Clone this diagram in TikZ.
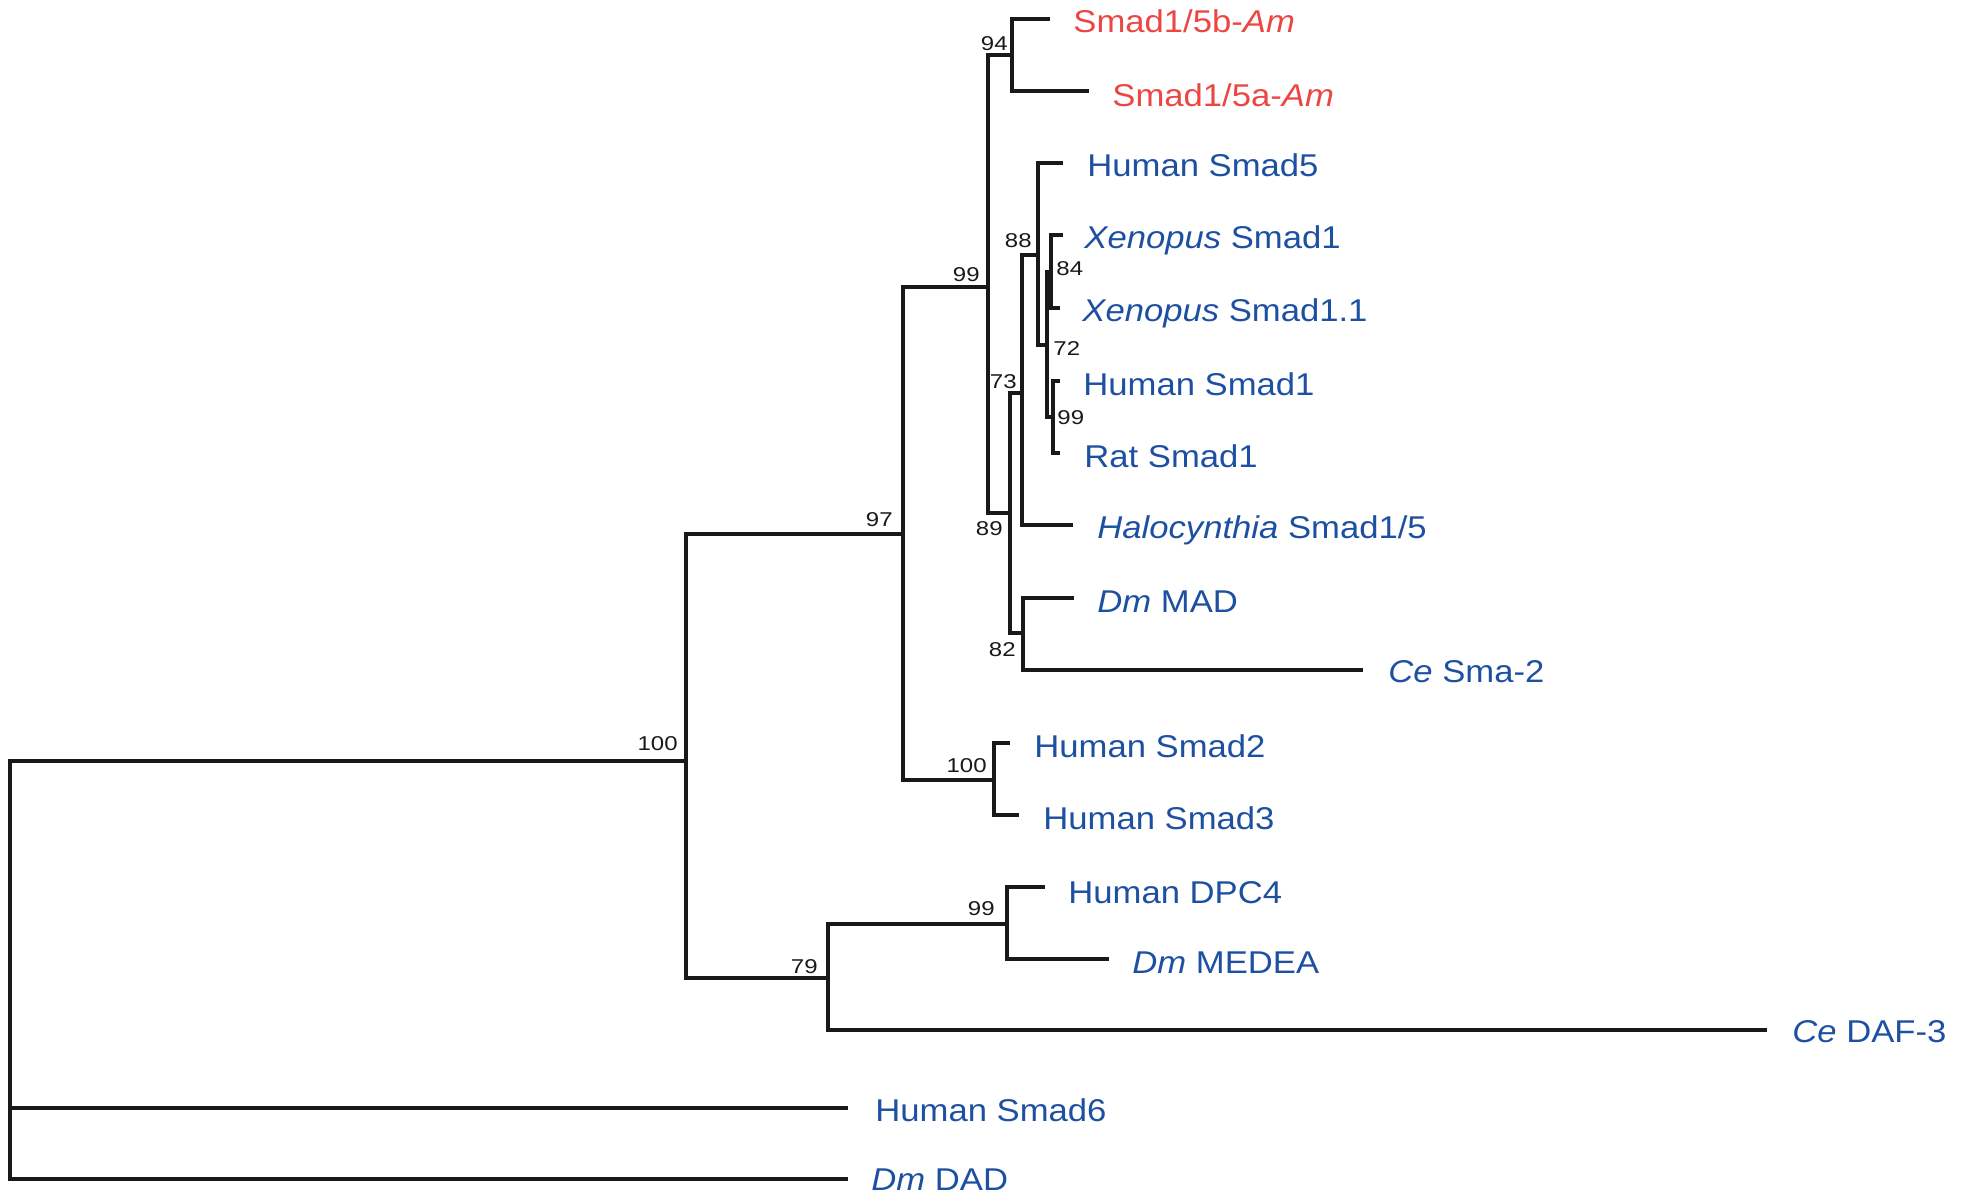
\documentclass[tikz,border=0pt]{standalone}
\usepackage{fontspec}
\setmainfont{Liberation Sans}
\usepackage{graphicx}
\definecolor{tblue}{RGB}{30,80,162}
\definecolor{tred}{RGB}{236,70,66}
\definecolor{tline}{RGB}{25,25,25}
\newcommand\stretchtxt[1]{\scalebox{1.1}[1]{#1}}
\newcommand\stretchnum[1]{\scalebox{1.2}[1]{#1}}
\tikzset{
  branch/.style={line width=1.6pt, draw=tline, line join=miter, line cap=rect},
  taxon/.style={anchor=base west, inner sep=0pt, text=tblue, font=\fontsize{15.75}{18}\selectfont},
  amtaxon/.style={taxon, text=tred},
  bootl/.style={anchor=base east, inner sep=0pt, text=tline, font=\fontsize{10}{12}\selectfont},
  bootr/.style={anchor=base west, inner sep=0pt, text=tline, font=\fontsize{10}{12}\selectfont},
}
\begin{document}
\begin{tikzpicture}[x=0.5pt, y=-0.5pt]
\useasboundingbox (0,0) rectangle (1966,1197);
% internal nodes
\coordinate (root) at (10,761);
\coordinate (n100a) at (686,761);
\coordinate (n97) at (903,534);
\coordinate (n99a) at (988,287);
\coordinate (n94) at (1012,55);
\coordinate (n89) at (1010,513);
\coordinate (n73) at (1022,393);
\coordinate (n88) at (1038,255);
\coordinate (n72) at (1047,345);
\coordinate (n84) at (1051,272);
\coordinate (n99b) at (1053,417);
\coordinate (n82) at (1023,633);
\coordinate (n100b) at (994,780);
\coordinate (n79) at (828,978);
\coordinate (n99c) at (1007,924);
% tips
\coordinate (t5b) at (1048,19);
\coordinate (t5a) at (1087,91);
\coordinate (tHs5) at (1061,163);
\coordinate (tX1) at (1061,235);
\coordinate (tX11) at (1058,308);
\coordinate (tHs1) at (1058,381);
\coordinate (tRat) at (1058,453);
\coordinate (tHalo) at (1071,525);
\coordinate (tMAD) at (1072,598);
\coordinate (tSma2) at (1361,670);
\coordinate (tHs2) at (1008,743);
\coordinate (tHs3) at (1017,815);
\coordinate (tDPC4) at (1043,887);
\coordinate (tMEDEA) at (1107,959);
\coordinate (tDAF) at (1765,1030);
\coordinate (tHs6) at (846,1108);
\coordinate (tDAD) at (846,1179);
% branches
\draw[branch] (root) |- (n100a);
\draw[branch] (root) |- (tHs6);
\draw[branch] (root) |- (tDAD);
\draw[branch] (n100a) |- (n97);
\draw[branch] (n100a) |- (n79);
\draw[branch] (n97) |- (n99a);
\draw[branch] (n97) |- (n100b);
\draw[branch] (n99a) |- (n94);
\draw[branch] (n99a) |- (n89);
\draw[branch] (n94) |- (t5b);
\draw[branch] (n94) |- (t5a);
\draw[branch] (n89) |- (n73);
\draw[branch] (n89) |- (n82);
\draw[branch] (n73) |- (n88);
\draw[branch] (n73) |- (tHalo);
\draw[branch] (n88) |- (tHs5);
\draw[branch] (n88) |- (n72);
\draw[branch] (n72) |- (n84);
\draw[branch] (n72) |- (n99b);
\draw[branch] (n84) |- (tX1);
\draw[branch] (n84) |- (tX11);
\draw[branch] (n99b) |- (tHs1);
\draw[branch] (n99b) |- (tRat);
\draw[branch] (n82) |- (tMAD);
\draw[branch] (n82) |- (tSma2);
\draw[branch] (n100b) |- (tHs2);
\draw[branch] (n100b) |- (tHs3);
\draw[branch] (n79) |- (n99c);
\draw[branch] (n79) |- (tDAF);
\draw[branch] (n99c) |- (tDPC4);
\draw[branch] (n99c) |- (tMEDEA);
% taxon labels
\node[amtaxon] (L5b) at (1073,33) {\stretchtxt{Smad1/5b-\textit{Am}}};
\node[amtaxon] (L5a) at (1112,107) {\stretchtxt{Smad1/5a-\textit{Am}}};
\node[taxon] (LHs5) at (1087,177) {\stretchtxt{Human Smad5}};
\node[taxon] (LX1) at (1084,249) {\stretchtxt{\textit{Xenopus} Smad1}};
\node[taxon] (LX11) at (1082,322) {\stretchtxt{\textit{Xenopus} Smad1.1}};
\node[taxon] (LHs1) at (1083,396) {\stretchtxt{Human Smad1}};
\node[taxon] (LRat) at (1084,468) {\stretchtxt{Rat Smad1}};
\node[taxon] (LHalo) at (1097,539) {\stretchtxt{\textit{Halocynthia} Smad1/5}};
\node[taxon] (LMAD) at (1097,613) {\stretchtxt{\textit{Dm} MAD}};
\node[taxon] (LSma2) at (1388,683) {\stretchtxt{\textit{Ce} Sma-2}};
\node[taxon] (LHs2) at (1034,758) {\stretchtxt{Human Smad2}};
\node[taxon] (LHs3) at (1043,829) {\stretchtxt{Human Smad3}};
\node[taxon] (LDPC4) at (1068,903) {\stretchtxt{Human DPC4}};
\node[taxon] (LMEDEA) at (1132,973) {\stretchtxt{\textit{Dm} MEDEA}};
\node[taxon] (LDAF) at (1792,1042) {\stretchtxt{\textit{Ce} DAF-3}};
\node[taxon] (LHs6) at (875,1121) {\stretchtxt{Human Smad6}};
\node[taxon] (LDAD) at (871,1190) {\stretchtxt{\textit{Dm} DAD}};
% bootstrap values
\node[bootl] (B94) at (1008,51) {\stretchnum{94}};
\node[bootl] (B99a) at (980,282) {\stretchnum{99}};
\node[bootl] (B88) at (1032,248) {\stretchnum{88}};
\node[bootr] (B84) at (1056,276) {\stretchnum{84}};
\node[bootr] (B72) at (1053,356) {\stretchnum{72}};
\node[bootl] (B73) at (1017,389) {\stretchnum{73}};
\node[bootr] (B99b) at (1057,425) {\stretchnum{99}};
\node[bootl] (B89) at (1003,536) {\stretchnum{89}};
\node[bootl] (B82) at (1016,657) {\stretchnum{82}};
\node[bootl] (B97) at (893,527) {\stretchnum{97}};
\node[bootl] (B100a) at (678,751) {\stretchnum{100}};
\node[bootl] (B100b) at (987,772) {\stretchnum{100}};
\node[bootl] (B79) at (818,973) {\stretchnum{79}};
\node[bootl] (B99c) at (995,915) {\stretchnum{99}};
\end{tikzpicture}
\end{document}
